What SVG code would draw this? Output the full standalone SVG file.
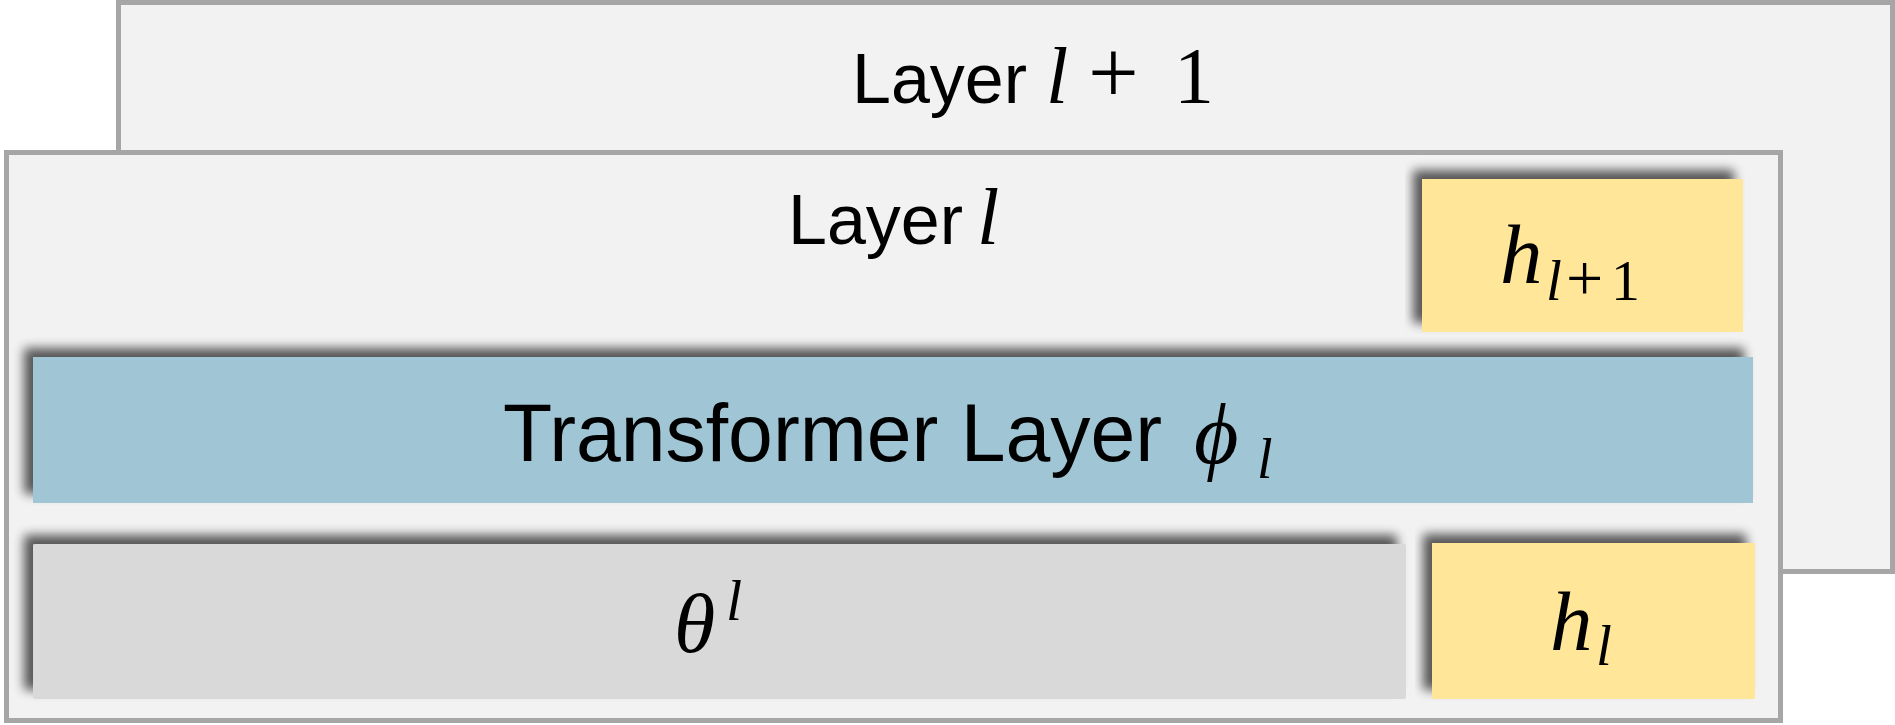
<svg xmlns="http://www.w3.org/2000/svg" width="1895" height="725" viewBox="0 0 1895 725">
  <defs>
    <filter id="shadow" x="-5%" y="-20%" width="110%" height="140%">
      <feGaussianBlur in="SourceAlpha" stdDeviation="5.5"/>
      <feOffset dx="-9" dy="-9" result="b"/>
      <feComponentTransfer in="b" result="s">
        <feFuncA type="linear" slope="0.65"/>
      </feComponentTransfer>
      <feMerge>
        <feMergeNode in="s"/>
        <feMergeNode in="SourceGraphic"/>
      </feMerge>
    </filter>
    <style>
      .layer { fill: #f2f2f2; stroke: #a6a6a6; stroke-width: 5; }
      .yellow { fill: #ffe699; }
      .blue { fill: #a0c5d5; }
      .gray { fill: #d9d9d9; }
      .txt { font-family: "Liberation Sans", Arial, sans-serif; fill: #000; }
      .math { font-family: "Liberation Serif", "DejaVu Serif", serif; font-style: italic; fill: #000; }
      .mup { font-family: "Liberation Serif", "DejaVu Serif", serif; fill: #000; }
    </style>
  </defs>

  <g id="layer-l-plus-1">
    <rect class="layer" x="118.5" y="2.5" width="1774" height="569"/>
    <text class="txt" x="852" y="103" font-size="70">Layer</text>
    <text class="math" x="1046" y="103" font-size="80">l</text>
    <text class="mup" x="1088" y="103" font-size="90">+</text>
    <text class="mup" x="1174" y="103" font-size="80">1</text>
  </g>

  <g id="layer-l">
    <rect class="layer" x="6.5" y="152.5" width="1774" height="568"/>
    <text class="txt" x="788" y="244" font-size="70">Layer</text>
    <text class="math" x="977" y="244" font-size="80">l</text>
  </g>

  <g id="h-l-plus-1">
    <rect class="yellow" x="1422" y="179" width="321" height="153" filter="url(#shadow)"/>
    <text class="math" x="1500" y="283" font-size="85">h</text>
    <text class="math" x="1546" y="300" font-size="57">l</text>
    <text class="mup" x="1566" y="300" font-size="66">+</text>
    <text class="mup" x="1611" y="300" font-size="58">1</text>
  </g>

  <g id="transformer-layer">
    <rect class="blue" x="33" y="357" width="1720" height="146" filter="url(#shadow)"/>
    <text class="txt" x="503" y="461" font-size="81" textLength="659" lengthAdjust="spacingAndGlyphs">Transformer Layer</text>
    <text class="math" x="1194" y="463" font-size="86">ϕ</text>
    <text class="math" x="1257" y="478" font-size="56">l</text>
  </g>

  <g id="theta">
    <rect class="gray" x="33" y="544" width="1373" height="155" rx="2" filter="url(#shadow)"/>
    <text class="math" x="674" y="652" font-size="84">θ</text>
    <text class="math" x="726" y="620" font-size="58">l</text>
  </g>

  <g id="h-l">
    <rect class="yellow" x="1432" y="543" width="323" height="156" filter="url(#shadow)"/>
    <text class="math" x="1550" y="650" font-size="85">h</text>
    <text class="math" x="1596" y="665" font-size="57">l</text>
  </g>

  <g id="connectors"/>
</svg>
